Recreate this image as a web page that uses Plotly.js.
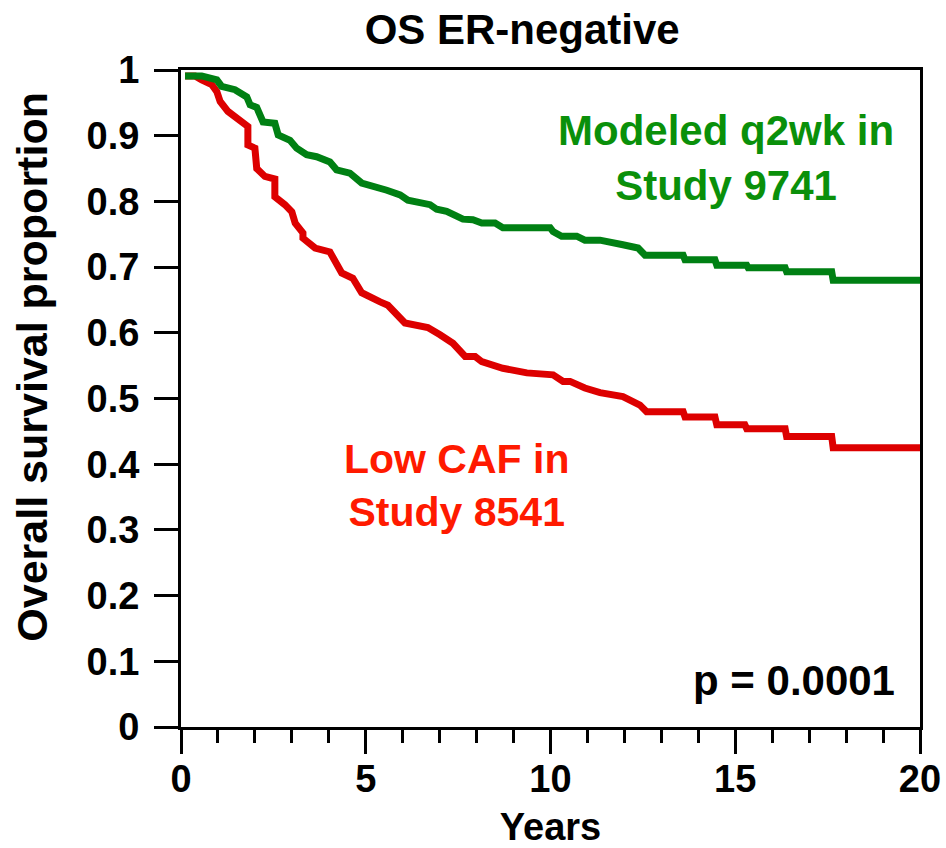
<!DOCTYPE html>
<html>
<head>
<meta charset="utf-8">
<script src="https://cdn.plot.ly/plotly-3.0.1.min.js"></script>
<style>
  html, body { margin: 0; padding: 0; background: #ffffff; }
  #chart { width: 946px; height: 848px; }
</style>
</head>
<body>
<div id="chart"></div>
<script>
// Kaplan-Meier style overall survival, ER-negative patients (years vs proportion alive)
const q2wkYears = [0.11, 0.56, 0.97, 1.10, 1.46, 1.78, 1.87, 2.05, 2.22, 2.54, 2.63, 2.95, 3.13, 3.40, 3.67,
  4.03, 4.21, 4.57, 4.89, 5.30, 5.57, 5.93, 6.14, 6.74, 6.92, 7.19, 7.36, 7.63, 7.90, 8.14, 8.50, 8.71,
  9.99, 10.07, 10.30, 10.71, 10.93, 11.34, 11.96, 12.37, 12.56, 13.59, 13.64, 14.45, 14.50, 15.31, 15.35,
  16.35, 16.39, 17.61, 17.65, 20.0];
const q2wkSurvival = [0.991, 0.991, 0.985, 0.975, 0.970, 0.959, 0.947, 0.943, 0.921, 0.919, 0.901, 0.893, 0.881, 0.871, 0.868,
  0.860, 0.848, 0.843, 0.828, 0.822, 0.817, 0.810, 0.802, 0.795, 0.788, 0.785, 0.780, 0.773, 0.772, 0.767, 0.767, 0.760,
  0.760, 0.754, 0.747, 0.747, 0.741, 0.741, 0.734, 0.729, 0.718, 0.718, 0.711, 0.711, 0.703, 0.703, 0.699,
  0.699, 0.693, 0.693, 0.680, 0.680];

const cafYears = [0.11, 0.38, 0.56, 0.83, 0.97, 1.06, 1.27, 1.51, 1.81, 1.81, 2.00, 2.05, 2.27, 2.54, 2.54,
  2.81, 3.00, 3.09, 3.30, 3.30, 3.63, 4.03, 4.21, 4.35, 4.65, 4.89, 5.39, 5.60, 6.06, 6.68, 7.01, 7.36,
  7.69, 7.96, 8.14, 8.71, 9.36, 9.99, 10.07, 10.34, 10.53, 10.93, 11.34, 11.96, 12.42, 12.60, 13.59, 13.64,
  14.45, 14.50, 15.26, 15.31, 16.35, 16.39, 17.61, 17.65, 20.0];
const cafSurvival = [0.991, 0.991, 0.985, 0.978, 0.967, 0.952, 0.937, 0.927, 0.914, 0.886, 0.881, 0.850, 0.838, 0.834, 0.807,
  0.795, 0.784, 0.767, 0.752, 0.744, 0.729, 0.723, 0.706, 0.691, 0.683, 0.661, 0.647, 0.642, 0.615, 0.608, 0.597, 0.584,
  0.564, 0.564, 0.556, 0.546, 0.539, 0.536, 0.536, 0.526, 0.526, 0.516, 0.509, 0.503, 0.490, 0.480, 0.480, 0.472,
  0.472, 0.460, 0.460, 0.454, 0.454, 0.442, 0.442, 0.425, 0.425];

const chartTitle = 'OS ER-negative';
const xTitle = 'Years';
const yTitle = 'Overall survival proportion';
const q2wkLabel = 'Modeled q2wk in<br>Study 9741';
const cafLabel = 'Low CAF in<br>Study 8541';
const pLabel = 'p = 0.0001';

const FONT = 'Arial, "Liberation Sans", sans-serif';
const GREEN_LINE = '#008013';
const RED_LINE = '#dd0000';

const traces = [
  {
    x: cafYears, y: cafSurvival, type: 'scatter', mode: 'lines',
    line: { color: RED_LINE, width: 7, shape: 'linear' },
    hoverinfo: 'x+y', name: 'Low CAF (8541)'
  },
  {
    x: q2wkYears, y: q2wkSurvival, type: 'scatter', mode: 'lines',
    line: { color: GREEN_LINE, width: 7, shape: 'linear' },
    hoverinfo: 'x+y', name: 'Modeled q2wk (9741)'
  }
];

const axisCommon = {
  showgrid: false, zeroline: false,
  showline: true, linecolor: '#000', linewidth: 3, mirror: true,
  ticks: 'outside', tickcolor: '#000', tickwidth: 3,
  tickfont: { family: FONT, size: 38, color: '#000', weight: 'bold' }
};

const layout = {
  width: 946, height: 848,
  margin: { l: 181, r: 26, t: 70, b: 121 },
  paper_bgcolor: '#fff', plot_bgcolor: '#fff',
  showlegend: false,
  font: { family: FONT, color: '#000' },
  title: {
    text: '<b>' + chartTitle + '</b>',
    font: { family: FONT, size: 42, color: '#000' },
    x: 0.552, xanchor: 'center', y: 0.965, yanchor: 'middle'
  },
  xaxis: Object.assign({}, axisCommon, {
    range: [0, 20], tickvals: [0, 5, 10, 15, 20], ticklen: 24, ticklabelstandoff: -8,
    minor: { dtick: 1, ticks: 'outside', ticklen: 13, tickwidth: 3, tickcolor: '#000', showgrid: false },
    title: { text: '<b>' + xTitle + '</b>', font: { family: FONT, size: 38, color: '#000' }, standoff: 16 }
  }),
  yaxis: Object.assign({}, axisCommon, {
    range: [0, 1], dtick: 0.1, tick0: 0, ticklen: 24, ticklabelstandoff: 7
  }),
  annotations: [
    {
      // vertical axis label, set a little above the plot's middle
      text: '<b>' + yTitle + '</b>', xref: 'paper', yref: 'paper', x: -0.202, y: 0.548,
      textangle: -90, showarrow: false, xanchor: 'center', yanchor: 'middle',
      font: { family: FONT, size: 43, color: '#000' }
    },
    {
      text: '<b>' + q2wkLabel + '</b>', xref: 'x', yref: 'y', x: 14.75, y: 0.866,
      showarrow: false, align: 'center', xanchor: 'center', yanchor: 'middle',
      font: { family: FONT, size: 42, color: '#0a900a' }
    },
    {
      text: '<b>' + cafLabel + '</b>', xref: 'x', yref: 'y', x: 7.45, y: 0.367,
      showarrow: false, align: 'center', xanchor: 'center', yanchor: 'middle',
      font: { family: FONT, size: 41, color: '#ff1a00' }
    },
    {
      text: '<b>' + pLabel + '</b>', xref: 'x', yref: 'y', x: 16.6, y: 0.071,
      showarrow: false, xanchor: 'center', yanchor: 'middle',
      font: { family: FONT, size: 42, color: '#000' }
    }
  ]
};

Plotly.newPlot('chart', traces, layout, { displayModeBar: false, staticPlot: true });
</script>
</body>
</html>
